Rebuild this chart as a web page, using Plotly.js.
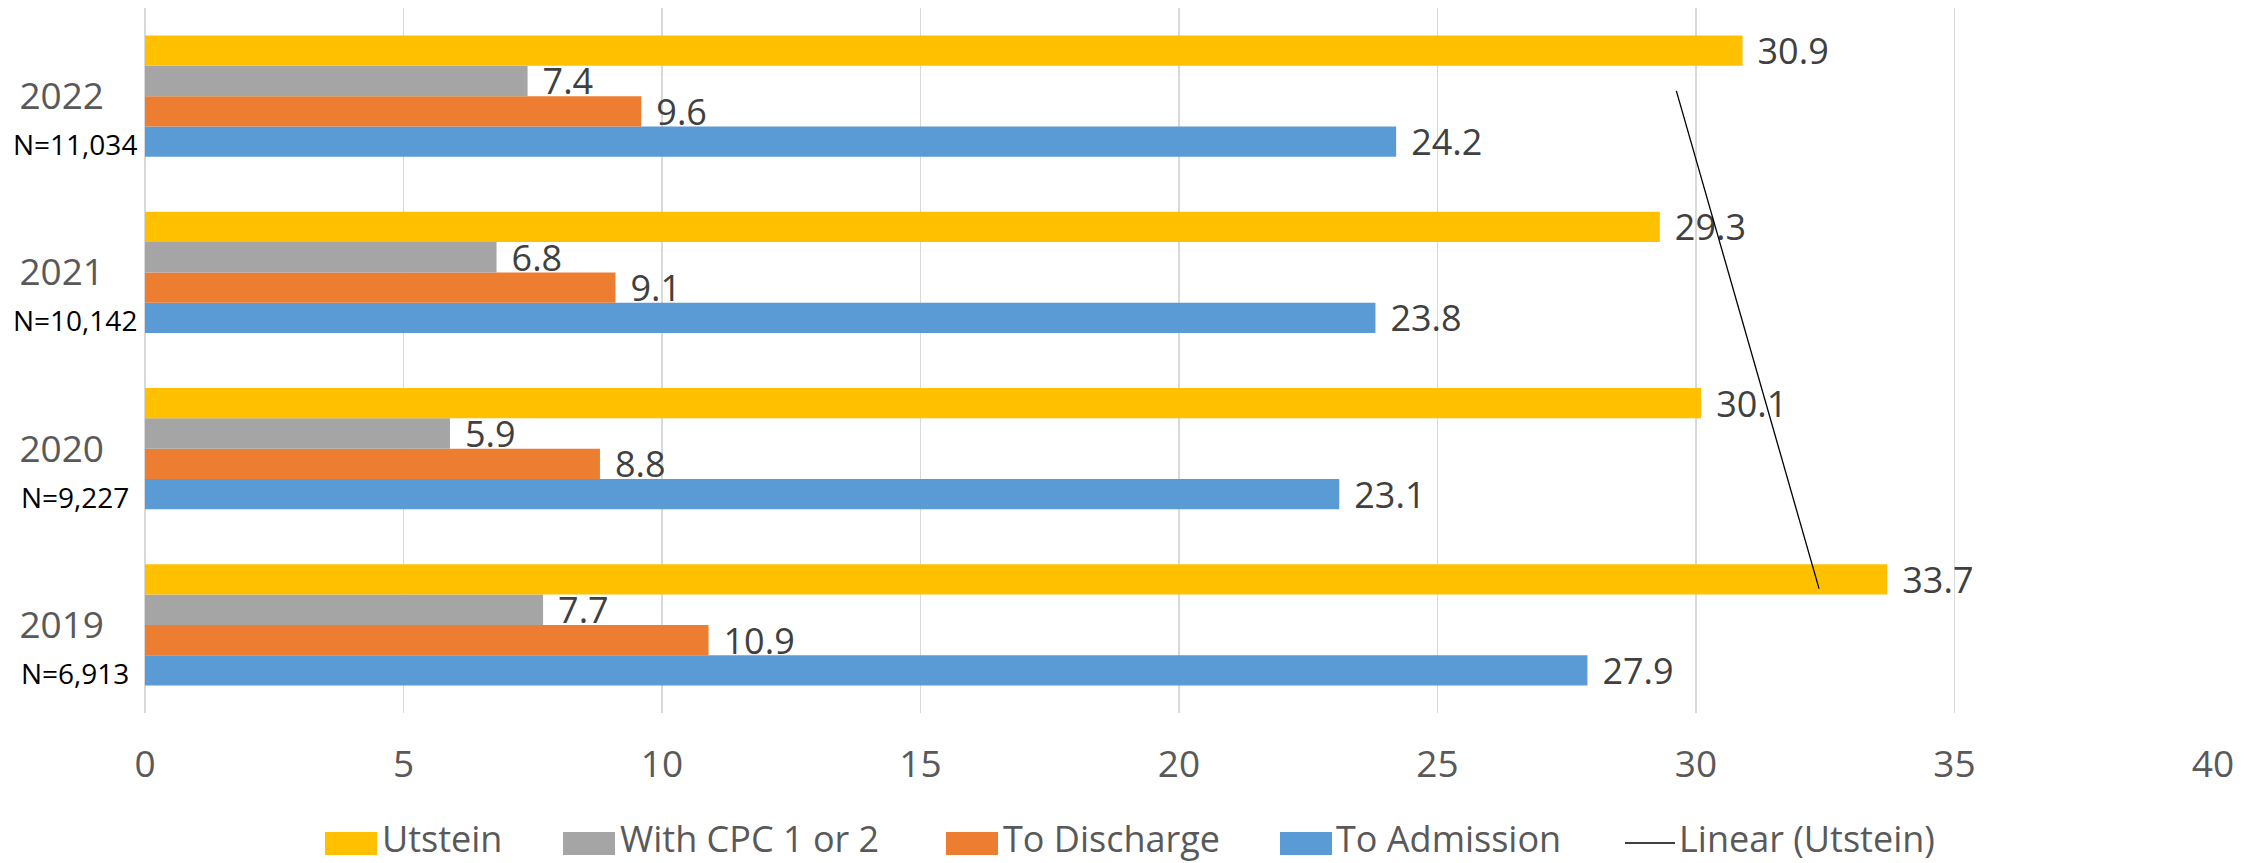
<!DOCTYPE html>
<html>
<head>
<meta charset="utf-8">
<script src="https://cdn.plot.ly/plotly-3.0.1.min.js"></script>
<style>
  html, body { margin: 0; padding: 0; background: #fff; }
  #chart { width: 2260px; height: 863px; }
</style>
</head>
<body>
<div id="chart"></div>
<script>
// categories, bottom to top
var years = ['2019', '2020', '2021', '2022'];
var sampleSizes = ['N=6,913', 'N=9,227', 'N=10,142', 'N=11,034'];

// survival (%) per year
var utstein = [33.7, 30.1, 29.3, 30.9];
var withCpc = [7.7, 5.9, 6.8, 7.4];
var toDischarge = [10.9, 8.8, 9.1, 9.6];
var toAdmission = [27.9, 23.1, 23.8, 24.2];

var xTicks = [0, 5, 10, 15, 20, 25, 30, 35, 40];

var colors = {
  utstein: '#FFC000',
  cpc: '#A5A5A5',
  discharge: '#ED7D31',
  admission: '#5B9BD5'
};

var FONT = '"Open Sans", "Noto Sans", sans-serif';

// Excel style linear trendline over point index 1..n
function linearFit(vals) {
  var n = vals.length, sx = 0, sy = 0, sxy = 0, sxx = 0;
  for (var i = 0; i < n; i++) {
    var xi = i + 1;
    sx += xi; sy += vals[i]; sxy += xi * vals[i]; sxx += xi * xi;
  }
  var slope = (n * sxy - sx * sy) / (n * sxx - sx * sx);
  var icpt = (sy - slope * sx) / n;
  return { idx: [1, n], val: [icpt + slope, icpt + slope * n] };
}

function barTrace(name, vals, color) {
  return {
    type: 'bar',
    orientation: 'h',
    name: name,
    y: years,
    x: vals,
    marker: { color: color },
    texttemplate: '\u2004%{x:.1f}',
    textposition: 'outside',
    constraintext: 'none',
    cliponaxis: false,
    textfont: { family: FONT, size: 36, color: '#404040' },
    hoverinfo: 'none'
  };
}

var fit = linearFit(utstein);

// first trace sits at the bottom of each group
var data = [
  barTrace('To Admission', toAdmission, colors.admission),
  barTrace('To Discharge', toDischarge, colors.discharge),
  barTrace('With CPC 1 or 2', withCpc, colors.cpc),
  barTrace('Utstein', utstein, colors.utstein),
  {
    type: 'scatter',
    mode: 'lines',
    name: 'Linear (Utstein)',
    x: fit.val,
    y: fit.idx,
    yaxis: 'y2',
    line: { color: '#000000', width: 1.3 },
    hoverinfo: 'none'
  }
];

// N labels under the year tick labels (category index on y)
var annotations = years.map(function (yr, i) {
  return {
    xref: 'paper', x: 0, xshift: -70, xanchor: 'center',
    yref: 'y', y: i, yshift: -48, yanchor: 'middle',
    text: sampleSizes[i], showarrow: false,
    font: { family: FONT, size: 28, color: '#000000' }
  };
});

// legend drawn by hand so swatches match Excel's look
var legendItems = [
  { name: 'Utstein', color: colors.utstein, sx: 180, tx: 236 },
  { name: 'With CPC 1 or 2', color: colors.cpc, sx: 418, tx: 474 },
  { name: 'To Discharge', color: colors.discharge, sx: 801, tx: 857 },
  { name: 'To Admission', color: colors.admission, sx: 1135, tx: 1190 },
  { name: 'Linear (Utstein)', color: '#000000', sx: 1480, tx: 1533, line: true }
];
var shapes = [];
legendItems.forEach(function (it) {
  if (it.line) {
    shapes.push({
      type: 'line', xref: 'paper', xsizemode: 'pixel', xanchor: 0,
      x0: it.sx, x1: it.sx + 50,
      yref: 'paper', ysizemode: 'pixel', yanchor: 0, y0: -130, y1: -130,
      line: { color: it.color, width: 1.3 }
    });
  } else {
    shapes.push({
      type: 'rect', xref: 'paper', xsizemode: 'pixel', xanchor: 0,
      x0: it.sx, x1: it.sx + 52,
      yref: 'paper', ysizemode: 'pixel', yanchor: 0, y0: -142, y1: -119,
      fillcolor: it.color, line: { width: 0 }
    });
  }
  annotations.push({
    xref: 'paper', x: 0, xshift: it.tx, xanchor: 'left',
    yref: 'paper', y: 0, yshift: -125, yanchor: 'middle',
    borderpad: 0,
    text: it.name, showarrow: false,
    font: { family: FONT, size: 36, color: '#595959' }
  });
});

var layout = {
  width: 2260,
  height: 863,
  margin: { l: 145, r: 47, t: 8, b: 150 },
  paper_bgcolor: '#ffffff',
  plot_bgcolor: '#ffffff',
  barmode: 'group',
  bargap: 0.313,
  bargroupgap: 0,
  showlegend: false,
  font: { family: FONT, color: '#595959' },
  xaxis: {
    range: [0, 40],
    tickvals: xTicks,
    showgrid: true,
    gridcolor: '#d9d9d9',
    gridwidth: 1.5,
    zeroline: true,
    zerolinecolor: '#d9d9d9',
    zerolinewidth: 1.5,
    showline: false,
    ticks: '',
    ticklabelstandoff: 26,
    tickfont: { family: FONT, size: 37, color: '#595959' },
    fixedrange: true
  },
  yaxis: {
    type: 'category',
    categoryorder: 'array',
    categoryarray: years,
    range: [-0.5, 3.5],
    showgrid: false,
    zeroline: false,
    showline: false,
    ticks: '',
    ticklabelstandoff: 40,
    tickfont: { family: FONT, size: 37, color: '#595959' },
    fixedrange: true
  },
  yaxis2: {
    overlaying: 'y',
    range: [0.25, 4.5],
    visible: false,
    fixedrange: true
  },
  annotations: annotations,
  shapes: shapes
};

Plotly.newPlot('chart', data, layout, { staticPlot: true, displayModeBar: false });
</script>
</body>
</html>
